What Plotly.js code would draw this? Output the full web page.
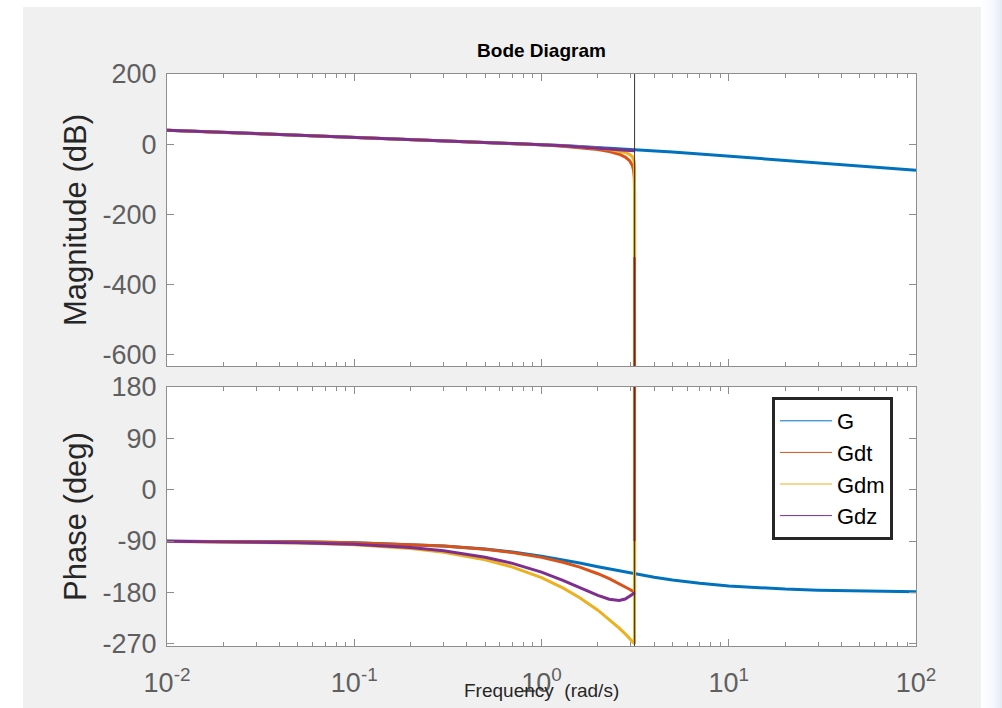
<!DOCTYPE html>
<html><head><meta charset="utf-8">
<script src="https://cdn.plot.ly/plotly-3.0.1.min.js"></script>
<style>
html,body{margin:0;padding:0;background:#fff;width:1002px;height:708px;overflow:hidden}
#bg{position:absolute;left:23px;top:7px;width:958px;height:701px;background:#f0f0f0}
#edge{position:absolute;left:981px;top:0;width:21px;height:708px;background:linear-gradient(to right,#ffffff,#f5f8fc 60%,#e3ebf5)}
#chart{position:absolute;left:0;top:0;width:1002px;height:708px}
</style></head><body>
<div id="bg"></div><div id="edge"></div><div id="chart"></div>
<script>
// ---- data ----
const seriesNames = ['G', 'Gdt', 'Gdm', 'Gdz'];
const nyquistFreq = 3.1416;   // rad/s, marked by the vertical line

// continuous system G
const freqC = [0.01,0.02,0.05,0.1,0.2,0.3,0.5,0.7,1,1.3,1.6,2,2.5,3.1416,4,5,7,10,15,20,30,50,70,100];
const magG = [40.00,33.98,26.02,19.99,13.94,10.36,5.76,2.60,-0.97,-3.81,-6.23,-9.03,-12.05,-15.34,-19.03,-22.58,-28.12,-34.15,-41.10,-46.06,-53.08,-61.95,-67.79,-73.98];
const phaseG = [-90.29,-90.57,-91.43,-92.86,-95.71,-98.53,-104.04,-109.29,-116.57,-123.02,-128.66,-135.00,-141.34,-147.52,-153.43,-158.20,-164.05,-168.69,-172.41,-174.29,-176.19,-177.71,-178.36,-178.85];

// discrete systems (up to the Nyquist frequency)
const freqD = [0.01,0.02,0.05,0.1,0.2,0.3,0.5,0.7,1,1.3,1.6,2,2.3,2.6,2.8,2.95,3.05,3.1,3.13,3.14,3.1416];
const magGdt = [40.00,33.98,26.02,19.98,13.91,10.29,5.56,2.19,-1.90,-5.62,-9.41,-15.22,-20.78,-28.61,-36.68,-46.75,-59.59,-73.30,-95.49,-129.98,-700];
const phaseGdt = [-90.29,-90.57,-91.43,-92.86,-95.73,-98.59,-104.32,-110.05,-118.65,-127.24,-135.84,-147.30,-155.89,-164.49,-170.21,-174.51,-177.38,-178.81,-179.67,-179.95,180];
const magGdm = [40.00,33.98,26.02,19.98,13.92,10.32,5.65,2.38,-1.44,-4.66,-7.65,-11.67,-15.05,-19.38,-23.60,-28.72,-35.16,-42.02,-53.12,-70.36,-322];
const phaseGdm = [-90.66,-91.33,-93.31,-96.62,-103.23,-109.82,-122.86,-135.66,-154.30,-172.19,-189.35,-211.24,-227.07,-242.55,-252.73,-260.37,-265.38,-267.90,-269.41,-269.92,-90];
const magGdz = [40.00,33.98,26.02,19.99,13.92,10.33,5.68,2.43,-1.31,-4.42,-7.22,-10.74,-13.32,-15.82,-17.27,-18.07,-18.38,-18.45,-18.46,-18.47,-18.47];
const phaseGdz = [-90.57,-91.15,-92.86,-95.73,-101.44,-107.11,-118.29,-129.14,-144.60,-158.80,-171.49,-185.25,-192.10,-194.13,-191.59,-187.33,-183.71,-181.70,-180.48,-180.07,-180.00];

// axes
const magRange = [-632, 200];
const magTicks = [-600, -400, -200, 0, 200];
const magTickText = ['-600', '-400', '-200', '0', '200'];
const phaseRange = [-274, 180];
const phaseTicks = [-270, -180, -90, 0, 90, 180];
const phaseTickText = ['-270', '-180', '-90', '0', '90', '180'];
const freqTicks = [0.01, 0.1, 1, 10, 100];
const freqTickText = ['10<sup>-2</sup>', '10<sup>-1</sup>', '10<sup>0</sup>', '10<sup>1</sup>', '10<sup>2</sup>'];

// ---- styling ----
const colors = ['#0072BD', '#D95319', '#EDB120', '#7E2F8E'];
const FONT = 'Liberation Sans, Arial, Helvetica, sans-serif';
const tickGray = '#5f5f5f';
const frameGray = '#8e8e8e';

const minorVals = [];
for (let e = -2; e < 2; e++) for (let k = 2; k <= 9; k++) minorVals.push(k * Math.pow(10, e));

const magSeries = [magG, magGdt, magGdm, magGdz];
const phaseSeries = [phaseG, phaseGdt, phaseGdm, phaseGdz];
const freqs = [freqC, freqD, freqD, freqD];

const traces = [];
for (let i = 0; i < 4; i++) {
  traces.push({x: freqs[i], y: magSeries[i], xaxis: 'x', yaxis: 'y', mode: 'lines',
    line: {color: colors[i], width: 3}, showlegend: false, hoverinfo: 'skip'});
}
for (let i = 0; i < 4; i++) {
  traces.push({x: freqs[i], y: phaseSeries[i], xaxis: 'x2', yaxis: 'y2', mode: 'lines',
    line: {color: colors[i], width: 3}, showlegend: false, hoverinfo: 'skip'});
}
// Nyquist frequency markers (MATLAB draws them for discrete systems)
traces.push({x: [nyquistFreq, nyquistFreq], y: magRange, xaxis: 'x', yaxis: 'y', mode: 'lines',
  line: {color: '#333333', width: 1}, showlegend: false, hoverinfo: 'skip'});
traces.push({x: [nyquistFreq, nyquistFreq], y: phaseRange, xaxis: 'x2', yaxis: 'y2', mode: 'lines',
  line: {color: '#333333', width: 1}, showlegend: false, hoverinfo: 'skip'});
// legend entries (thin sample lines like the reference)
for (let i = 0; i < 4; i++) {
  traces.push({x: [null], y: [null], xaxis: 'x2', yaxis: 'y2', mode: 'lines', name: seriesNames[i],
    line: {color: colors[i], width: 1}, showlegend: true});
}

const xBase = {
  type: 'log', range: [-2, 2], showline: true, linecolor: frameGray, linewidth: 1,
  mirror: 'ticks', ticks: 'inside', ticklen: 7, tickcolor: frameGray, tickwidth: 1,
  showgrid: false, zeroline: false, tickmode: 'array', tickvals: freqTicks,
  minor: {tickmode: 'array', tickvals: minorVals, ticks: 'inside', ticklen: 4, tickcolor: frameGray, showgrid: false}
};
const yBase = {
  showline: true, linecolor: frameGray, linewidth: 1, mirror: 'ticks', ticks: 'inside',
  ticklen: 7, tickcolor: frameGray, showgrid: false, zeroline: false, tickmode: 'array',
  tickfont: {family: FONT, size: 27, color: tickGray}, ticklabelstandoff: 4
};

const layout = {
  width: 1002, height: 708,
  margin: {l: 167, r: 86, t: 74, b: 62},
  paper_bgcolor: 'rgba(0,0,0,0)', plot_bgcolor: '#ffffff',
  font: {family: FONT},
  title: {text: '<b>Bode Diagram</b>', font: {family: FONT, size: 19, color: '#000'},
    x: 0.5, xref: 'paper', xanchor: 'center', y: 1 - 50.7 / 708, yref: 'container', yanchor: 'middle'},
  xaxis: Object.assign({}, xBase, {anchor: 'y', showticklabels: false}),
  xaxis2: Object.assign({}, xBase, {anchor: 'y2', matches: 'x', ticktext: freqTickText,
    tickfont: {family: FONT, size: 27, color: tickGray}, ticklabelstandoff: 13}),
  yaxis: Object.assign({}, yBase, {domain: [0.4895, 1], anchor: 'x', range: magRange,
    tickvals: magTicks, ticktext: magTickText,
    title: {text: 'Magnitude (dB)', font: {family: FONT, size: 31, color: '#262626'}, standoff: 6}}),
  yaxis2: Object.assign({}, yBase, {domain: [0, 0.4528], anchor: 'x2', range: phaseRange,
    tickvals: phaseTicks, ticktext: phaseTickText,
    title: {text: 'Phase (deg)', font: {family: FONT, size: 31, color: '#262626'}, standoff: 6}}),
  legend: {x: 0.8077, xanchor: 'left', y: 0.4353, yanchor: 'top', bgcolor: '#ffffff',
    bordercolor: '#262626', borderwidth: 3, font: {family: FONT, size: 22, color: '#000'},
    itemwidth: 52, traceorder: 'normal'},
  annotations: [{text: 'Frequency\u00a0 (rad/s)', xref: 'paper', yref: 'paper', x: 0.5, y: -44 / 572,
    xanchor: 'center', yanchor: 'middle', showarrow: false, font: {family: FONT, size: 19, color: '#262626'}}]
};

Plotly.newPlot('chart', traces, layout, {displayModeBar: false, staticPlot: true});
</script>
</body></html>
